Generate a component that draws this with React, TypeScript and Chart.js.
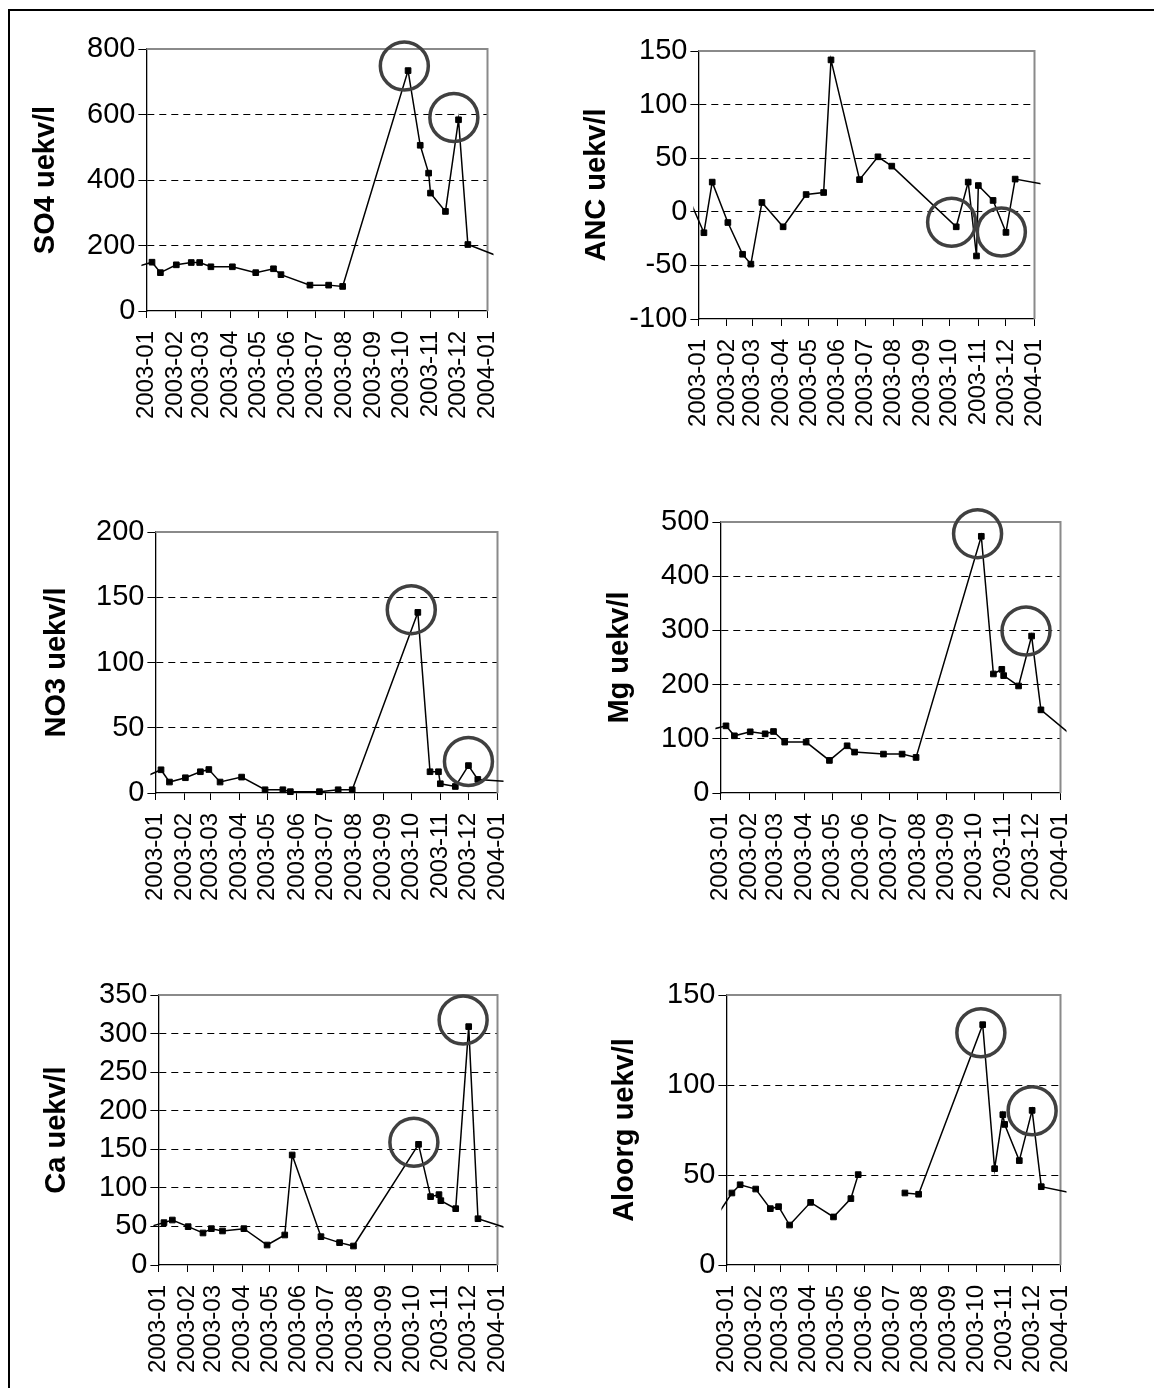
import React, { useEffect, useRef } from 'react';
import { Chart, registerables } from 'chart.js';
Chart.register(...registerables);

// ---------- data ----------
const sampleDates = ['2003-01-07', '2003-01-16', '2003-02-02', '2003-02-18', '2003-02-27', '2003-03-11', '2003-04-03', '2003-04-28', '2003-05-17', '2003-05-25', '2003-06-25', '2003-07-15', '2003-07-30', '2003-10-08', '2003-10-21', '2003-10-30', '2003-11-01', '2003-11-17', '2003-12-01', '2003-12-11'];
const monthLabels = ['2003-01', '2003-02', '2003-03', '2003-04', '2003-05', '2003-06', '2003-07', '2003-08', '2003-09', '2003-10', '2003-11', '2003-12', '2004-01'];

const so4Values = [149, 117, 141, 148, 148, 135, 135, 117, 129, 111, 79, 79, 75, 734, 506, 421, 360, 304, 584, 203];
const ancValues = [-19.5, 27.7, -10, -39.6, -48.8, 8.7, -14, 16.1, 18, 141.7, 30, 51.3, 42.6, -14, 27.7, -41.2, 24.5, 10.6, -19.2, 30.5];
const no3Values = [17.8, 8.4, 11.7, 16.3, 18, 8.4, 12.2, 2.5, 2.5, 1, 1, 2.5, 2.5, 138.4, 16.3, 16.3, 7.1, 5, 21, 10.4];
const mgValues = [123.9, 105.5, 112.9, 109.2, 113.5, 93.9, 93.9, 60.1, 87.1, 75.5, 71.8, 71.8, 65.6, 473.6, 219.6, 228.2, 216.6, 197.5, 289.6, 153.4];
const caValues = [54.9, 58.3, 49.7, 41.5, 47.1, 44.1, 47.1, 25.9, 38.9, 142.6, 36.7, 29, 24.6, 156.4, 88.6, 91.2, 83.4, 73, 309, 60];
const aloorgValues = [40, 44.6, 42.2, 31.3, 32.4, 22.2, 34.8, 26.7, 36.9, 50.2, null, 40, 39.3, 133.5, 53.5, 83.5, 78.1, 58, 85.9, 43.5];

// neighbouring samples just outside the year (line continues to them)
const outsideDates = ['2002-12-22', '2004-01-20'];
const so4Outside = [135, 159];
const ancOutside = [12, 24.3];
const no3Outside = [12.8, 8.5];
const mgOutside = [117, 96.5];
const caOutside = [49.6, 44.4];
const aloorgOutside = [27.5, 39.3];

// highlighted samples (circles)
const so4CircleDates = ['2003-10-04', '2003-11-26'];
const so4CircleValues = [748, 591];
const ancCircleDates = ['2003-10-03', '2003-11-26'];
const ancCircleValues = [-9.8, -18.9];
const no3CircleDates = ['2003-10-01', '2003-12-01'];
const no3CircleValues = [140.5, 24.2];
const mgCircleDates = ['2003-10-04', '2003-11-25'];
const mgCircleValues = [478.5, 298.8];
const caCircleDates = ['2003-10-03', '2003-11-25'];
const caCircleValues = [159, 317.6];
const aloorgCircleDates = ['2003-10-06', '2003-12-01'];
const aloorgCircleValues = [129, 85.7];

// ---------- helpers ----------
function ts(d: string): number {
  const p = d.split('-').map(Number);
  return Date.UTC(p[0], p[1] - 1, p[2] || 1);
}
const monthTicks = monthLabels.map((m) => ts(m));

const FONT = '"Liberation Sans", Arial, sans-serif';
const PAD_TOP = 30;
const PAD_RIGHT = 14;
const LABEL_OVERHANG = 14; // extra right space the rotated x labels reserve
const XH = 125;
const TITLE_SIZE = 29;
const YTICK_SIZE = 29;
const XTICK_SIZE = 24;
const ZERO_PAD = () => ({ left: 0, top: 0, right: 0, bottom: 0 });

type Panel = {
  title: string;
  values: (number | null)[];
  outside: number[];
  circleDates: string[];
  circleValues: number[];
  min: number;
  max: number;
  step: number;
  plot: { l: number; t: number; r: number; b: number };
  titleX: number;
};

const panels: Panel[] = [
  { title: 'SO4 uekv/l', values: so4Values, outside: so4Outside, circleDates: so4CircleDates, circleValues: so4CircleValues, min: 0, max: 800, step: 200, plot: { l: 146, t: 49, r: 487, b: 311 }, titleX: 46 },
  { title: 'ANC uekv/l', values: ancValues, outside: ancOutside, circleDates: ancCircleDates, circleValues: ancCircleValues, min: -100, max: 150, step: 50, plot: { l: 698, t: 51, r: 1034, b: 319 }, titleX: 597 },
  { title: 'NO3 uekv/l', values: no3Values, outside: no3Outside, circleDates: no3CircleDates, circleValues: no3CircleValues, min: 0, max: 200, step: 50, plot: { l: 155, t: 532, r: 497, b: 793 }, titleX: 57 },
  { title: 'Mg uekv/l', values: mgValues, outside: mgOutside, circleDates: mgCircleDates, circleValues: mgCircleValues, min: 0, max: 500, step: 100, plot: { l: 720, t: 522, r: 1060, b: 793 }, titleX: 620 },
  { title: 'Ca uekv/l', values: caValues, outside: caOutside, circleDates: caCircleDates, circleValues: caCircleValues, min: 0, max: 350, step: 50, plot: { l: 158, t: 995, r: 497, b: 1265 }, titleX: 57 },
  { title: 'Aloorg uekv/l', values: aloorgValues, outside: aloorgOutside, circleDates: aloorgCircleDates, circleValues: aloorgCircleValues, min: 0, max: 150, step: 50, plot: { l: 726, t: 995, r: 1060, b: 1265 }, titleX: 625 },
];

const framePlugin = {
  id: 'frame',
  beforeDatasetsDraw(chart: any) {
    const { ctx, chartArea } = chart;
    ctx.save();
    ctx.strokeStyle = '#8a8a8a';
    ctx.lineWidth = 2;
    ctx.beginPath();
    ctx.moveTo(chartArea.left, chartArea.top);
    ctx.lineTo(chartArea.right, chartArea.top);
    ctx.lineTo(chartArea.right, chartArea.bottom);
    ctx.stroke();
    ctx.restore();
  },
};

function PanelChart({ p }: { p: Panel }) {
  const ref = useRef<HTMLCanvasElement | null>(null);
  const canvasLeft = p.titleX - (TITLE_SIZE * 1.2) / 2;
  const yw = p.plot.l - canvasLeft;
  const width = Math.round(yw + (p.plot.r - p.plot.l) + PAD_RIGHT + LABEL_OVERHANG);
  const height = Math.round(PAD_TOP + (p.plot.b - p.plot.t) + XH);

  useEffect(() => {
    if (!ref.current) return;
    const lineData = [
      { x: ts(outsideDates[0]), y: p.outside[0] },
      ...sampleDates.map((d, i) => ({ x: ts(d), y: p.values[i] })),
      { x: ts(outsideDates[1]), y: p.outside[1] },
    ];
    const radii = lineData.map((_, i) => (i === 0 || i === lineData.length - 1 ? 0 : 4));
    const circleData = p.circleDates.map((d, i) => ({ x: ts(d), y: p.circleValues[i] }));

    const chart = new Chart(ref.current, {
      type: 'line',
      data: {
        datasets: [
          {
            data: circleData as any,
            showLine: false,
            pointStyle: 'circle',
            pointRadius: 24,
            pointBorderWidth: 3.5,
            pointBorderColor: '#404040',
            pointBackgroundColor: 'rgba(0,0,0,0)',
            clip: false as any,
            order: 1,
          },
          {
            data: lineData as any,
            borderColor: '#000',
            borderWidth: 1.5,
            pointStyle: 'rect',
            pointRadius: radii,
            pointBackgroundColor: '#000',
            pointBorderColor: '#000',
            pointBorderWidth: 1,
            spanGaps: false,
            tension: 0,
            clip: { left: 5, right: 6, top: 30, bottom: 5 } as any,
            order: 2,
          },
        ],
      },
      options: {
        animation: false,
        responsive: false,
        devicePixelRatio: 1,
        events: [],
        layout: { padding: { top: PAD_TOP, right: PAD_RIGHT, left: 0, bottom: 0 } },
        plugins: { legend: { display: false }, tooltip: { enabled: false } },
        scales: {
          x: {
            type: 'linear',
            min: ts('2003-01-01'),
            max: ts('2004-01-01'),
            afterBuildTicks: (s: any) => {
              s.ticks = monthTicks.map((v) => ({ value: v }));
            },
            afterFit: (s: any) => {
              s.height = XH;
              s.paddingLeft = 0;
              s.paddingRight = 0;
              s.getPadding = ZERO_PAD;
            },
            ticks: {
              autoSkip: false,
              minRotation: 90,
              maxRotation: 90,
              padding: 13,
              color: '#000',
              font: { family: FONT, size: XTICK_SIZE },
              callback: (_v: any, i: number) => monthLabels[i],
            },
            grid: { drawOnChartArea: false, drawTicks: true, tickLength: 7, tickColor: '#000', tickWidth: 1 },
            border: { display: true, color: '#000', width: 1.3 },
          },
          y: {
            min: p.min,
            max: p.max,
            afterFit: (s: any) => {
              s.width = yw;
              s.paddingTop = 0;
              s.paddingBottom = 0;
              s.getPadding = ZERO_PAD;
            },
            ticks: {
              stepSize: p.step,
              padding: 3,
              color: '#000',
              font: { family: FONT, size: YTICK_SIZE },
            },
            grid: {
              color: (c: any) => (c.tick && (c.tick.value === p.min || c.tick.value === p.max) ? 'rgba(0,0,0,0)' : '#000'),
              lineWidth: 1,
              tickLength: 8,
              tickColor: '#000',
              tickWidth: 1,
            },
            border: { display: true, color: '#000', width: 1.3, dash: [7, 5] },
            title: {
              display: true,
              text: p.title,
              color: '#000',
              font: { family: FONT, size: TITLE_SIZE, weight: 'bold' },
              padding: { top: 0, bottom: 0 },
            },
          },
        },
      },
      plugins: [framePlugin],
    } as any);
    return () => chart.destroy();
  }, []);

  return (
    <canvas
      ref={ref}
      width={width}
      height={height}
      style={{ position: 'absolute', left: canvasLeft - 8, top: p.plot.t - PAD_TOP - 8, width, height }}
    />
  );
}

export default function App() {
  return (
    <div style={{ position: 'relative', width: 1146, height: 1380, overflow: 'hidden', background: '#fff' }}>
      <div
        style={{
          position: 'absolute',
          left: 0,
          top: 1,
          width: 1400,
          height: 1600,
          borderLeft: '2px solid #000',
          borderTop: '2px solid #000',
        }}
      />
      {panels.map((p, i) => (
        <PanelChart key={i} p={p} />
      ))}
    </div>
  );
}
